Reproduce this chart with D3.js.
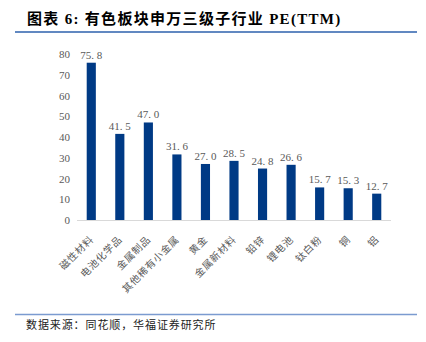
<!DOCTYPE html>
<html>
<head>
<meta charset="utf-8">
<script src="https://cdn.jsdelivr.net/npm/d3@7/dist/d3.min.js"></script>
<style>
  html, body { margin: 0; padding: 0; background: #fff; }
  svg { display: block; }
</style>
</head>
<body>
<svg id="chart" width="426" height="342"></svg>
<script>
// 有色板块申万三级子行业 PE(TTM)
const categories = ["磁性材料", "电池化学品", "金属制品", "其他稀有小金属", "黄金", "金属新材料", "铅锌", "锂电池", "钛白粉", "铜", "铝"];
const peValues = [75.8, 41.5, 47.0, 31.6, 27.0, 28.5, 24.8, 26.6, 15.7, 15.3, 12.7];
const yTicks = [0, 10, 20, 30, 40, 50, 60, 70, 80];

const svg = d3.select("#chart");
const cjk = "'Liberation Serif', 'Noto Sans CJK SC', serif";
const cjkLabel = "'Noto Sans CJK SC', sans-serif";

// Title and rules
svg.append("text")
  .attr("x", 27).attr("y", 24)
  .attr("font-family", cjk)
  .attr("font-size", 15)
  .attr("font-weight", "bold")
  .attr("letter-spacing", 1.3)
  .attr("fill", "#000")
  .text("图表 6:  有色板块申万三级子行业 PE(TTM)");

svg.append("line")
  .attr("x1", 15).attr("x2", 417).attr("y1", 32).attr("y2", 32)
  .attr("stroke", "#2d61ad").attr("stroke-width", 1.5);

svg.append("line")
  .attr("x1", 15).attr("x2", 417).attr("y1", 314.5).attr("y2", 314.5)
  .attr("stroke", "#7b9bd0").attr("stroke-width", 1.5);

svg.append("text")
  .attr("x", 26).attr("y", 329)
  .attr("font-family", cjkLabel)
  .attr("font-size", 11)
  .attr("letter-spacing", 0.9)
  .attr("fill", "#222")
  .text("数据来源：同花顺，华福证券研究所");

// Plot scales
const x = d3.scaleBand().domain(categories).range([77, 391]).paddingInner(0.68).paddingOuter(0.34);
const y = d3.scaleLinear().domain([0, 80]).range([220, 54]);

// Y axis tick labels
const yAxis = d3.axisLeft(y).tickValues(yTicks).tickSize(0).tickPadding(0);
const yg = svg.append("g").attr("transform", "translate(70,0)").call(yAxis);
yg.select(".domain").remove();
yg.selectAll("text")
  .attr("font-family", "'Liberation Serif', serif")
  .attr("font-size", 11)
  .attr("fill", "#595959");

// Bars
svg.append("g").selectAll("rect")
  .data(peValues)
  .join("rect")
  .attr("x", (d, i) => x(categories[i]))
  .attr("width", x.bandwidth())
  .attr("y", d => y(d))
  .attr("height", d => y(0) - y(d))
  .attr("fill", "#003a85");

// Value labels
svg.append("g").selectAll("text")
  .data(peValues)
  .join("text")
  .attr("x", (d, i) => x(categories[i]) + x.bandwidth() / 2)
  .attr("y", d => y(d) - 4)
  .attr("text-anchor", "middle")
  .attr("font-family", "'Liberation Serif', serif")
  .attr("font-size", 11)
  .attr("fill", "#595959")
  .text(d => d.toFixed(1).replace(".", ". "));

// X axis
const xAxis = d3.axisBottom(x).tickSize(0).tickPadding(0);
const xg = svg.append("g").attr("transform", "translate(0,220)").call(xAxis);
xg.select(".domain")
  .attr("stroke", "#d9d9d9").attr("stroke-width", 1)
  .attr("d", "M77,0.5H391");
xg.selectAll("text")
  .attr("font-family", cjkLabel)
  .attr("font-size", 10)
  .attr("letter-spacing", 0.8)
  .attr("fill", "#595959")
  .attr("text-anchor", "end")
  .attr("dy", "0")
  .attr("transform", "translate(3,20) rotate(-45)");
</script>
</body>
</html>
